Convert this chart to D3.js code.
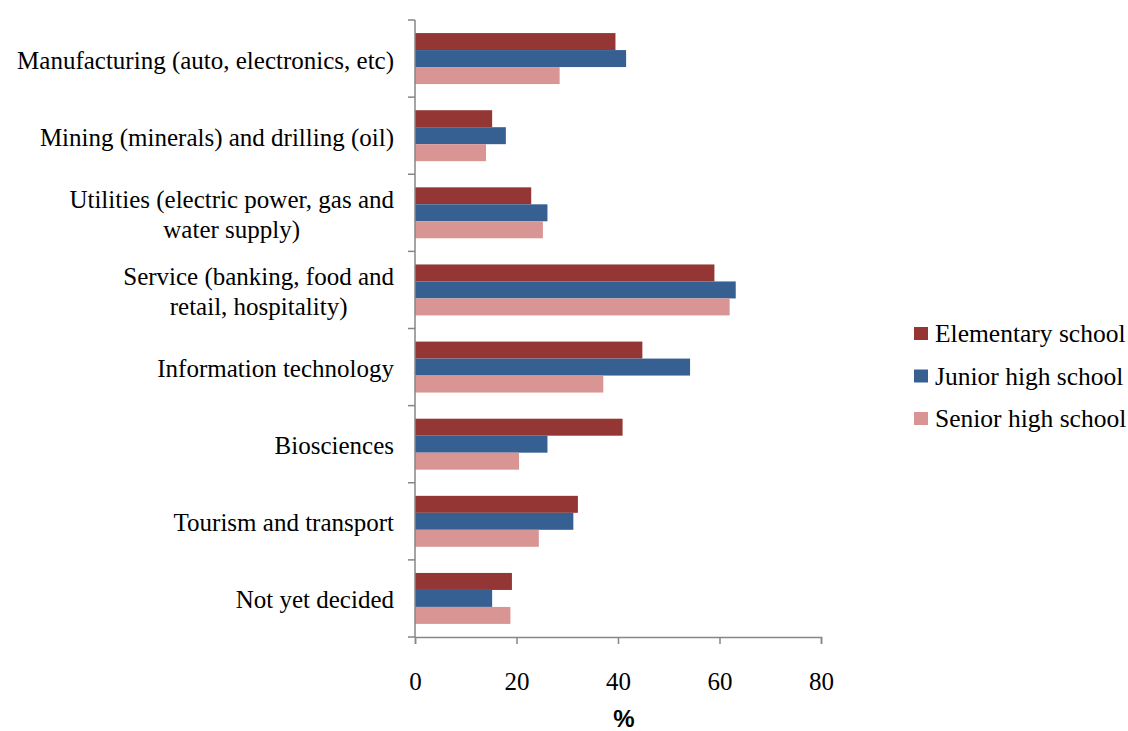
<!DOCTYPE html>
<html>
<head>
<meta charset="utf-8">
<script src="https://cdn.jsdelivr.net/npm/d3@7"></script>
<style>
  body { margin: 0; background: #fff; }
  svg { display: block; }
</style>
</head>
<body>
<div id="chart"></div>
<script>
// categories, top to bottom ("\n" marks a label line break)
const categories = [
  'Manufacturing (auto, electronics, etc)',
  'Mining (minerals) and drilling (oil)',
  'Utilities (electric power, gas and\nwater supply)',
  'Service (banking, food and\nretail, hospitality)',
  'Information technology',
  'Biosciences',
  'Tourism and transport',
  'Not yet decided'
]
const seriesNames = ['Elementary school', 'Junior high school', 'Senior high school']
const elementary = [39.5, 15.2, 22.9, 59.0, 44.8, 40.9, 32.1, 19.1]
const juniorHigh = [41.6, 17.9, 26.1, 63.2, 54.2, 26.1, 31.2, 15.2]
const seniorHigh = [28.5, 14.0, 25.2, 62.0, 37.1, 20.5, 24.4, 18.8]
const xTicks = [0, 20, 40, 60, 80]
const colors = ['#943634', '#366092', '#d99594']

const seriesValues = [elementary, juniorHigh, seniorHigh]
const data = categories.map((c, i) => ({
  cat: c,
  vals: seriesNames.map((s, j) => ({series: s, value: seriesValues[j][i]}))
}))

const W = 1128, H = 731
const plotLeft = 415, plotRight = 821, plotTop = 20, plotBottom = 637
const axisColor = '#868686'
const serif = '"Liberation Serif", "Times New Roman", serif'

const svg = d3.select('#chart').append('svg')
  .attr('width', W).attr('height', H)

const x = d3.scaleLinear().domain([0, 80]).range([plotLeft, plotRight])
const y = d3.scaleBand().domain(categories).range([plotTop, plotBottom]).padding(0)
const y1 = d3.scaleBand().domain(seriesNames).range([0, y.bandwidth()])
  .paddingInner(0).paddingOuter(0.77)
const color = d3.scaleOrdinal().domain(seriesNames).range(colors)

// bars
svg.append('g').selectAll('g')
  .data(data)
  .enter().append('g')
  .attr('transform', d => 'translate(0,' + y(d.cat) + ')')
  .selectAll('rect')
  .data(d => d.vals)
  .enter().append('rect')
  .attr('x', x(0))
  .attr('y', d => y1(d.series))
  .attr('width', d => x(d.value) - x(0))
  .attr('height', y1.bandwidth())
  .attr('fill', d => color(d.series))

// y axis: line + ticks at band boundaries
const yAxis = svg.append('g')
yAxis.append('line')
  .attr('x1', plotLeft).attr('x2', plotLeft).attr('y1', plotTop).attr('y2', plotBottom)
  .attr('stroke', axisColor).attr('stroke-width', 1.5)
const bounds = categories.map(c => y(c)).concat([plotBottom])
yAxis.selectAll('.ytick')
  .data(bounds)
  .enter().append('line')
  .attr('class', 'ytick')
  .attr('x1', plotLeft - 7).attr('x2', plotLeft)
  .attr('y1', d => d).attr('y2', d => d)
  .attr('stroke', axisColor).attr('stroke-width', 1.5)

// category labels
const lineH = 30
const labels = yAxis.selectAll('.ylabel')
  .data(categories)
  .enter().append('text')
  .attr('class', 'ylabel')
  .attr('font-family', serif)
  .attr('font-size', 25)
  .attr('fill', '#000')
  .attr('y', d => y(d) + y.bandwidth() / 2 + 2)
labels.each(function(d) {
  const lines = d.split('\n')
  const t = d3.select(this)
  lines.forEach((ln, i) => {
    t.append('tspan').text(ln)
      .attr('dy', i === 0 ? ((-(lines.length - 1) / 2) * lineH + 8) + 'px' : lineH + 'px')
  })
  // lines centred on each other, block right-aligned
  const spans = t.selectAll('tspan').nodes()
  const maxW = d3.max(spans, s => s.getComputedTextLength())
  spans.forEach(s => {
    d3.select(s).attr('x', 394 - maxW / 2).attr('text-anchor', 'middle')
  })
})

// x axis
const xAxis = svg.append('g').attr('transform', 'translate(0,' + plotBottom + ')')
  .call(d3.axisBottom(x).tickValues(xTicks).tickSize(7).tickPadding(28).tickFormat(d3.format('d')))
xAxis.select('.domain').attr('stroke', axisColor).attr('stroke-width', 1.5)
xAxis.selectAll('.tick line').attr('stroke', axisColor).attr('stroke-width', 1.5)
xAxis.selectAll('.tick text')
  .attr('font-family', serif)
  .attr('font-size', 25)
  .attr('fill', '#000')

svg.append('text')
  .attr('x', 624).attr('y', 727)
  .attr('text-anchor', 'middle')
  .attr('font-family', '"Liberation Sans", Arial, sans-serif')
  .attr('font-weight', 'bold')
  .attr('font-size', 24)
  .text('%')

// legend
const legend = svg.append('g').attr('transform', 'translate(914,334)')
const items = legend.selectAll('g')
  .data(seriesNames)
  .enter().append('g')
  .attr('transform', (d, i) => 'translate(0,' + i * 42.5 + ')')
items.append('rect')
  .attr('x', 0).attr('y', -7).attr('width', 14).attr('height', 13)
  .attr('fill', d => color(d))
items.append('text')
  .attr('x', 21).attr('y', 0).attr('dy', '0.33em')
  .attr('font-family', serif)
  .attr('font-size', 25.5)
  .text(d => d)
</script>
</body>
</html>
